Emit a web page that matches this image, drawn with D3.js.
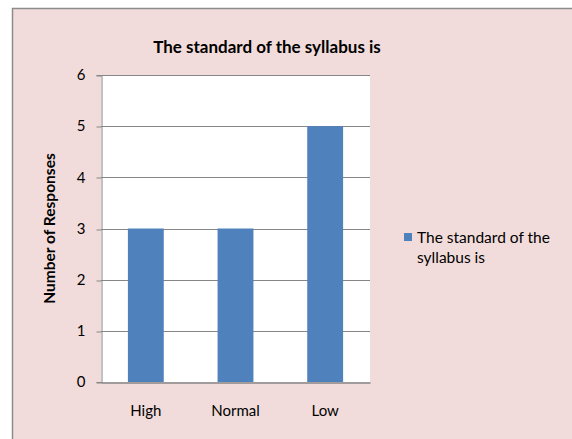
<!DOCTYPE html>
<html>
<head>
<meta charset="utf-8">
<script src="https://cdn.jsdelivr.net/npm/d3@7"></script>
<style>
  html, body { margin: 0; padding: 0; background: #ffffff; }
  svg { display: block; }
  text { font-family: Lato, "Open Sans", sans-serif; fill: #000; }
</style>
</head>
<body>
<script>
// Survey answers for one question
const categories = ["High", "Normal", "Low"];
const responses = [3, 3, 5];
const yTicks = [0, 1, 2, 3, 4, 5, 6];
const chartTitle = "The standard of the syllabus is";
const seriesName = "The standard of the syllabus is";
const yAxisTitle = "Number of Responses";

const W = 572, H = 439;
const svg = d3.select("body").append("svg").attr("width", W).attr("height", H);

// Chart area background
svg.append("rect")
  .attr("x", 12.5).attr("y", 8.5)
  .attr("width", W).attr("height", H)
  .attr("fill", "#f2dcdb")
  .attr("stroke", "#8c8c8c").attr("stroke-width", 1.5);

const plot = { left: 101, top: 75, right: 370, bottom: 382 };

const x = d3.scaleBand()
  .domain(categories)
  .range([plot.left, plot.right])
  .paddingInner(0.6).paddingOuter(0.3);

const y = d3.scaleLinear().domain([0, 6]).range([plot.bottom, plot.top]);

// Plot area
svg.append("rect")
  .attr("x", plot.left).attr("y", plot.top)
  .attr("width", plot.right - plot.left).attr("height", plot.bottom - plot.top)
  .attr("fill", "#ffffff");

// Gridlines
svg.append("g")
  .selectAll("line")
  .data(yTicks.filter(d => d > 0))
  .join("line")
  .attr("x1", plot.left).attr("x2", plot.right)
  .attr("y1", d => Math.round(y(d)) + 0.5).attr("y2", d => Math.round(y(d)) + 0.5)
  .attr("stroke", "#868686").attr("stroke-width", 1);

// Bars
svg.append("g")
  .selectAll("rect")
  .data(categories)
  .join("rect")
  .attr("x", (d) => x(d))
  .attr("width", x.bandwidth())
  .attr("y", (d, i) => y(responses[i]))
  .attr("height", (d, i) => y(0) - y(responses[i]))
  .attr("fill", "#4f81bd");

// Y axis
const yAxis = d3.axisLeft(y).tickValues(yTicks).tickSize(5).tickPadding(11).tickFormat(d3.format("d"));
const gy = svg.append("g")
  .attr("transform", `translate(${plot.left + 0.5},0)`)
  .call(yAxis);
gy.select(".domain").attr("stroke", "#868686");
gy.selectAll(".tick line").attr("stroke", "#868686")
  .attr("transform", d => `translate(0,${Math.round(y(d)) + 0.5 - y(d)})`);
gy.selectAll(".tick text").attr("font-size", 15).attr("font-family", "Lato, sans-serif");

// X axis
const xAxis = d3.axisBottom(x).tickSize(0).tickPadding(23);
const gx = svg.append("g")
  .attr("transform", `translate(0,${plot.bottom + 0.5})`)
  .call(xAxis);
gx.select(".domain").attr("stroke", "#868686").attr("stroke-width", 1.5);
gx.selectAll(".tick text").attr("font-size", 15).attr("font-family", "Lato, sans-serif");

// Title
svg.append("text")
  .attr("x", 267).attr("y", 53)
  .attr("text-anchor", "middle")
  .attr("font-size", 17).attr("font-weight", "bold")
  .text(chartTitle);

// Y axis title
svg.append("text")
  .attr("transform", `translate(55,${(plot.top + plot.bottom) / 2}) rotate(-90)`)
  .attr("text-anchor", "middle")
  .attr("font-size", 15.5).attr("font-weight", "bold")
  .text(yAxisTitle);

// Legend
const legend = svg.append("g").attr("transform", "translate(404,233)");
legend.append("rect").attr("width", 8).attr("height", 8).attr("fill", "#4f81bd");
const words = seriesName.split(" ");
const lines = [words.slice(0, 4).join(" "), words.slice(4).join(" ")];
legend.append("text")
  .attr("font-size", 15.5)
  .selectAll("tspan")
  .data(lines)
  .join("tspan")
  .attr("x", 13)
  .attr("y", (d, i) => 10 + i * 20)
  .text(d => d);
</script>
</body>
</html>
